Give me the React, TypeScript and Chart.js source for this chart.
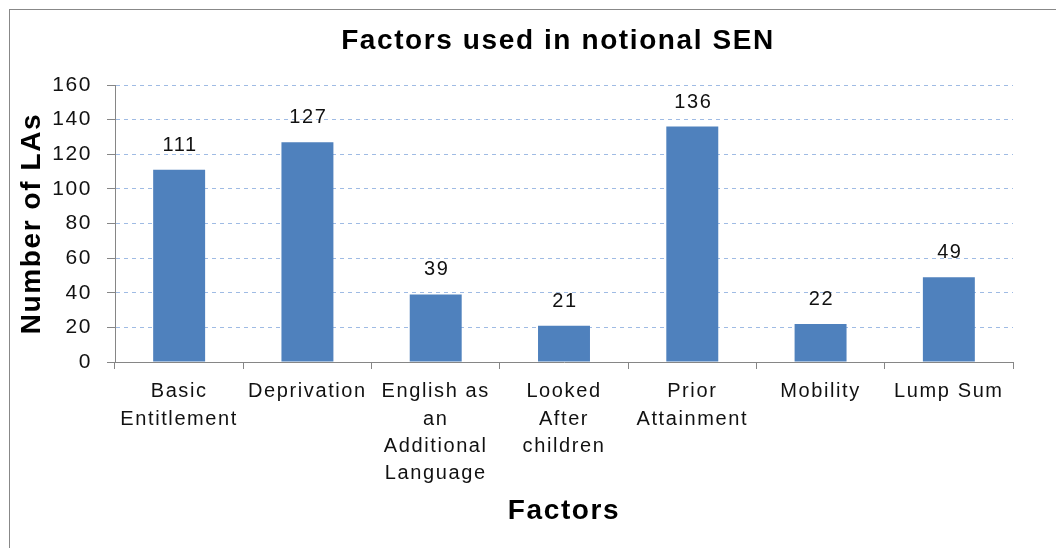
import React, { useEffect, useRef } from 'react';
import { Chart, registerables } from 'chart.js';

Chart.register(...registerables);

const categories: string[][] = [
  ['Basic', 'Entitlement'],
  ['Deprivation'],
  ['English as', 'an', 'Additional', 'Language'],
  ['Looked', 'After', 'children'],
  ['Prior', 'Attainment'],
  ['Mobility'],
  ['Lump Sum'],
];
const values: number[] = [111, 127, 39, 21, 136, 22, 49];
const yMin = 0;
const yMax = 160;
const yStep = 20;
const chartTitle = 'Factors used in notional SEN';
const xTitle = 'Factors';
const yTitle = 'Number of LAs';

const FONT = '"Liberation Sans", Arial, sans-serif';
const SPACING = '1.6px';
const CW = 1104;
const CH = 560;

const decorPlugin = {
  id: 'decor',
  beforeUpdate(chart: any) {
    chart.ctx.letterSpacing = SPACING;
  },
  beforeLayout(chart: any) {
    chart.ctx.letterSpacing = SPACING;
  },
  beforeDraw(chart: any) {
    const ctx = chart.ctx;
    ctx.letterSpacing = SPACING;
    ctx.save();
    ctx.fillStyle = '#ffffff';
    ctx.fillRect(0, 0, chart.width, chart.height);
    ctx.strokeStyle = '#888888';
    ctx.lineWidth = 1;
    ctx.strokeRect(1.5, 1.5, chart.width, chart.height);
    ctx.restore();
  },
  afterDatasetsDraw(chart: any) {
    const ctx = chart.ctx;
    const meta = chart.getDatasetMeta(0);
    ctx.save();
    ctx.letterSpacing = SPACING;
    ctx.font = `20px ${FONT}`;
    ctx.fillStyle = '#111111';
    ctx.textAlign = 'center';
    ctx.textBaseline = 'alphabetic';
    meta.data.forEach((bar: any, i: number) => {
      ctx.fillText(String(values[i]), bar.x + 1, bar.y - 19);
    });
    ctx.restore();
  },
  afterDraw(chart: any) {
    const ctx = chart.ctx;
    const area = chart.chartArea;
    ctx.save();
    ctx.letterSpacing = SPACING;
    ctx.fillStyle = '#000000';
    ctx.textBaseline = 'alphabetic';
    ctx.textAlign = 'center';
    ctx.font = `bold 28px ${FONT}`;
    ctx.fillText(chartTitle, 550, 41);
    ctx.fillText(xTitle, (area.left + area.right) / 2, 511);
    ctx.translate(32, (area.top + area.bottom) / 2);
    ctx.rotate(-Math.PI / 2);
    ctx.fillText(yTitle, 0, 0);
    ctx.restore();
  },
};

export default function App() {
  const ref = useRef<HTMLCanvasElement | null>(null);

  useEffect(() => {
    if (!ref.current) return;
    const yTickValues: number[] = [];
    for (let v = yMin; v <= yMax; v += yStep) yTickValues.push(v);

    const chart = new Chart(ref.current, {
      type: 'bar',
      data: {
        labels: categories,
        datasets: [
          {
            data: values,
            backgroundColor: '#4F81BD',
            borderWidth: 0,
            barPercentage: 0.405,
            categoryPercentage: 1,
          },
        ],
      },
      options: {
        responsive: false,
        animation: false,
        devicePixelRatio: 1,
        layout: { padding: { top: 77, right: 99, bottom: 0, left: 0 } },
        plugins: {
          legend: { display: false },
          title: { display: false },
          tooltip: { enabled: false },
        },
        scales: {
          x: {
            afterFit(scale: any) {
              scale.height = CH - 354;
            },
            grid: {
              display: true,
              drawOnChartArea: false,
              drawTicks: true,
              tickLength: 7,
              color: '#868686',
              tickColor: '#868686',
              offset: true,
            },
            border: { display: true, color: '#868686', width: 1 },
            ticks: {
              autoSkip: false,
              maxRotation: 0,
              minRotation: 0,
              padding: 9,
              color: '#111111',
              font: { family: FONT, size: 20, lineHeight: 1.37 },
            },
          },
          y: {
            min: yMin,
            max: yMax,
            afterFit(scale: any) {
              scale.width = 107;
            },
            afterBuildTicks(scale: any) {
              scale.ticks = yTickValues.map((v) => ({ value: v }));
            },
            grid: {
              color: (ctx: any) => (ctx.tick && ctx.tick.value === 0 ? 'rgba(0,0,0,0)' : '#9fbbe4'),
              tickColor: '#868686',
              tickLength: 8,
              tickBorderDash: [],
              lineWidth: 1,
            },
            border: { display: true, color: '#868686', width: 1, dash: [4, 4] },
            ticks: {
              padding: 15,
              color: '#111111',
              font: { family: FONT, size: 21 },
            },
          },
        },
      },
      plugins: [decorPlugin],
    });
    return () => chart.destroy();
  }, []);

  return (
    <div
      style={{
        position: 'fixed',
        left: 8,
        top: 8,
        width: 1048,
        height: 540,
        overflow: 'hidden',
        background: '#ffffff',
      }}
    >
      <canvas ref={ref} width={CW} height={CH} style={{ display: 'block', width: CW, height: CH }} />
    </div>
  );
}
